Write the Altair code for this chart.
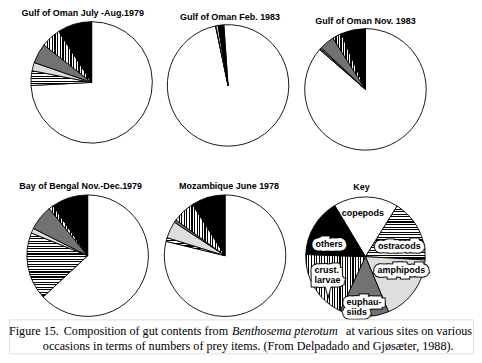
import math
import altair as alt
import pandas as pd

# ---------------- data ----------------
categories = ["copepods", "ostracods", "amphipods", "euphausiids", "crust. larvae", "others"]
panel_titles = ["Gulf of Oman July -Aug.1979", "Gulf of Oman  Feb. 1983", "Gulf of Oman  Nov. 1983",
                "Bay of Bengal  Nov.-Dec.1979", "Mozambique  June 1978", "Key"]
oman_jul_aug_1979 = [74.2, 3.9, 2.2, 5.3, 5.3, 9.1]
oman_feb_1983 = [97.8, 0.1, 0.6, 0.1, 0.1, 1.3]
oman_nov_1983 = [86.4, 0.3, 0.3, 4.0, 2.5, 6.5]
bengal_nov_dec_1979 = [63.1, 18.0, 1.3, 6.7, 1.3, 9.6]
mozambique_jun_1978 = [78.8, 1.0, 4.5, 0.7, 6.0, 9.0]
key_shares = [17.5, 17.0, 17.8, 13.3, 18.6, 15.8]
key_labels = ["copepods", "ostracods", "amphipods", "euphau-\nsiids", "crust.\nlarvae", "others"]
caption_line1 = ["Figure 15.", "Composition of gut contents from", "Benthosema pterotum",
                 "at various sites on various"]
caption_line2 = ["occasions in terms of numbers of prey items.  (From Delpadado and Gj\u00f8s\u00e6ter, 1988)."]

# ---------------- styles ----------------
TAU = 2 * math.pi
R = 61
PERIOD = 2.6
SANS = "Liberation Sans"
SERIF = "Liberation Serif"


def wedge_extent(a0, a1, r):
    xs, ys = [0.0], [0.0]
    n = max(2, int(abs(a1 - a0)) + 2)
    for i in range(n + 1):
        a = math.radians(a0 + (a1 - a0) * i / n)
        xs.append(r * math.sin(a))
        ys.append(-r * math.cos(a))
    return max(xs) - min(xs), max(ys) - min(ys)


def stripes(n, along_y, frac=0.45):
    n = max(1, n)
    stops = []
    for i in range(n):
        a, b, c = i / n, (i + frac) / n, (i + 1) / n
        stops += [alt.GradientStop(offset=a, color="black"), alt.GradientStop(offset=b, color="black"),
                  alt.GradientStop(offset=b, color="white"), alt.GradientStop(offset=c, color="white")]
    if along_y:
        return alt.LinearGradient(gradient="linear", stops=stops, x1=0, x2=0, y1=0, y2=1)
    return alt.LinearGradient(gradient="linear", stops=stops, x1=0, x2=1, y1=0, y2=0)


def fill_for(cat, a0, a1, r):
    w, h = wedge_extent(a0, a1, r)
    if cat == "copepods":
        return "white"
    if cat == "ostracods":
        return stripes(round(h / PERIOD), True)
    if cat == "amphipods":
        return "#dedede"
    if cat == "euphausiids":
        return "#727272"
    if cat == "crust. larvae":
        return stripes(round(w / PERIOD), False)
    return "black"


label_style = {
    # category: (radius, dx, dy, align, boxed)
    "copepods": (44, -3, 0, "center", False),
    "ostracods": (36, 2, 6, "center", True),
    "amphipods": (38, 5, -9, "center", True),
    "euphausiids": (46, -18, 0, "left", True),
    "crust. larvae": (40, -17, -7, "left", True),
    "others": (40, -2, 8, "center", True),
}


def pie_panel(values, title, width, dx, dy, title_dx, title_dy=0, rot_deg=0.0, labels=None):
    df = pd.DataFrame({"category": categories, "share": values, "order": list(range(len(categories)))})
    if labels is not None:
        df["label"] = labels
    start = math.radians(rot_deg % 360)
    tscale = alt.Scale(domain=[0, 100], range=[start, start + TAU])
    base = alt.Chart(df).transform_stack(
        stack="share", groupby=[], as_=["v0", "v1"], sort=[alt.SortField("order", order="ascending")]
    )
    layers = []
    cum = 0.0
    for cat, v in zip(categories, values):
        a0 = rot_deg + cum * 3.6
        a1 = a0 + v * 3.6
        cum += v
        if v <= 0:
            continue
        layers.append(
            base.transform_filter(alt.datum.category == cat)
            .mark_arc(radius=R - (1 if labels is not None else 0), fill=fill_for(cat, a0, a1, R),
                      stroke="black", strokeWidth=0.9, xOffset=dx, yOffset=dy)
            .encode(theta=alt.Theta("v0:Q", scale=tscale, stack=False), theta2="v1:Q")
        )
    if labels is not None:
        for cat in categories:
            rad, ldx, ldy, align, boxed = label_style[cat]
            tb = base.transform_filter(alt.datum.category == cat).transform_calculate(
                mid="(datum.v0 + datum.v1) / 2")
            enc = dict(theta=alt.Theta("mid:Q", scale=tscale, stack=False), text="label:N")
            common = dict(radius=rad, dx=ldx, dy=ldy, align=align, baseline="middle", font=SANS,
                          fontSize=9, fontWeight="bold", lineBreak="\n", lineHeight=9.5,
                          xOffset=dx, yOffset=dy)
            if boxed:
                layers.append(tb.mark_text(stroke="black", strokeWidth=9, strokeJoin="miter",
                                           fill="black", **common).encode(**enc))
                layers.append(tb.mark_text(stroke="white", strokeWidth=7, strokeJoin="miter",
                                           fill="white", **common).encode(**enc))
            layers.append(tb.mark_text(fill="black", **common).encode(**enc))
    return alt.layer(*layers).properties(
        width=width, height=124,
        title=alt.TitleParams(title, font=SANS, fontSize=9, fontWeight="bold", anchor="middle",
                              dx=title_dx, dy=title_dy, offset=2, color="black"),
    )


p1 = pie_panel(oman_jul_aug_1979, panel_titles[0], 150, 8, 0, -1)
p2 = pie_panel(oman_feb_1983, panel_titles[1], 138, 1, 3, 3, title_dy=3, rot_deg=-4)
p3 = pie_panel(oman_nov_1983, panel_titles[2], 138, 1, 7, 1, title_dy=7)
p4 = pie_panel(bengal_nov_dec_1979, panel_titles[3], 150, 4, 0, -3)
p5 = pie_panel(mozambique_jun_1978, panel_titles[4], 138, -2, 0, 2)
p6 = pie_panel(key_shares, panel_titles[5], 138, 1, 1, -3, rot_deg=-31, labels=key_labels)

row1 = alt.hconcat(p1, p2, p3, spacing=0)
row2 = alt.hconcat(p4, p5, p6, spacing=0)

cap_df1 = pd.DataFrame({"text": caption_line1, "part": [0, 1, 2, 3]})
cap_df2 = pd.DataFrame({"text": caption_line2})
cap_base = dict(font=SERIF, fontSize=12.2, baseline="alphabetic", color="black")
caption = alt.layer(
    alt.Chart(cap_df1).transform_filter(alt.datum.part == 0).mark_text(align="left", **cap_base)
    .encode(text="text:N", x=alt.value(0), y=alt.value(16)),
    alt.Chart(cap_df1).transform_filter(alt.datum.part == 1).mark_text(align="left", **cap_base)
    .encode(text="text:N", x=alt.value(55), y=alt.value(16)),
    alt.Chart(cap_df1).transform_filter(alt.datum.part == 2).mark_text(align="left", fontStyle="italic", **cap_base)
    .encode(text="text:N", x=alt.value(224), y=alt.value(16)),
    alt.Chart(cap_df1).transform_filter(alt.datum.part == 3).mark_text(align="right", **cap_base)
    .encode(text="text:N", x=alt.value(465), y=alt.value(16)),
    alt.Chart(cap_df2).mark_text(align="left", **cap_base)
    .encode(text="text:N", x=alt.value(34), y=alt.value(31)),
).properties(width=466, height=34)

chart = alt.vconcat(
    alt.vconcat(row1, row2, spacing=30),
    caption,
    spacing=0,
).properties(padding=0).configure_view(strokeWidth=0).configure(background="white")

chart.save("out.html", embed_options={"renderer": "svg", "actions": False})
